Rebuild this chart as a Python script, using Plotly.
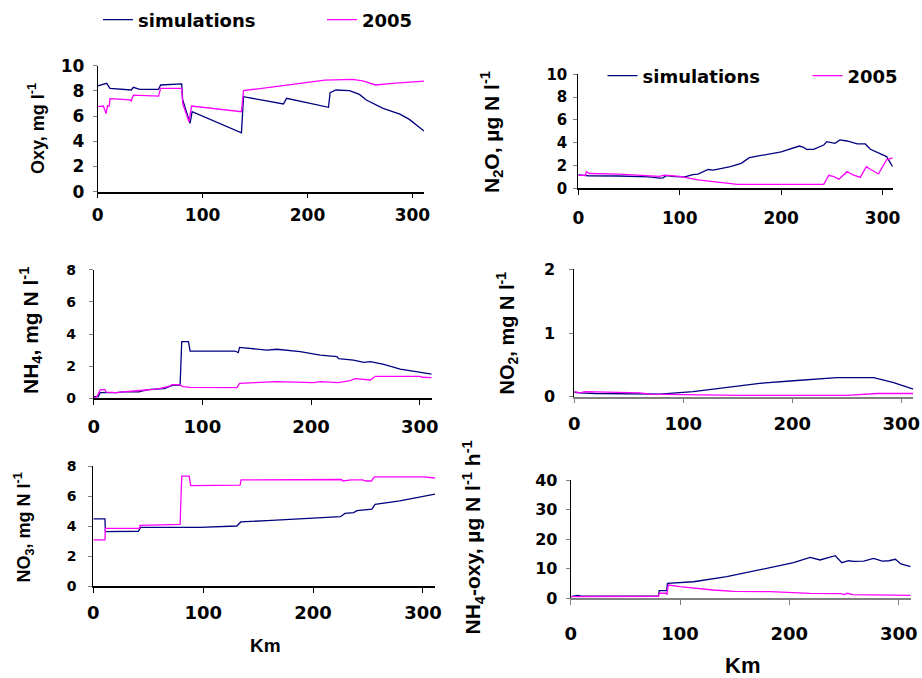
import plotly.graph_objects as go

W, H = 922, 678

# ---------------- data ----------------
oxy_sim_km = [0, 8.5, 11.7, 32, 34, 40, 58, 60, 80, 81, 88, 90, 137, 139, 177, 180, 220, 221.5, 227, 240, 249.5, 256, 272, 288, 297, 311]
oxy_sim_val = [8.39, 8.6, 8.2, 8.07, 8.28, 8.12, 8.12, 8.47, 8.55, 7.3, 5.42, 6.35, 4.68, 7.54, 6.96, 7.41, 6.7, 7.86, 8.07, 8.02, 7.72, 7.28, 6.61, 6.16, 5.74, 4.81]
oxy_obs_km = [0, 5.4, 8, 9.3, 11, 11.7, 31, 32, 34, 58, 60, 80, 81, 87, 89.5, 137, 139, 216.5, 243, 252.5, 265, 281, 311]
oxy_obs_val = [6.75, 6.8, 6.2, 6.8, 6.8, 7.38, 7.28, 7.2, 7.67, 7.59, 8.2, 8.2, 7.0, 5.55, 6.8, 6.35, 8.02, 8.86, 8.92, 8.8, 8.47, 8.6, 8.78]

n2o_sim_km = [0, 10, 40, 70, 80, 83.5, 87, 95, 105, 113, 118, 128, 133, 150, 160.6, 165.5, 168.7, 200, 218, 222, 225, 232, 242, 245, 253, 258, 265, 275, 283, 288, 301, 304, 310]
n2o_sim_val = [1.17, 1.1, 1.08, 1.0, 0.9, 0.92, 1.12, 1.02, 1.0, 1.2, 1.25, 1.65, 1.6, 1.9, 2.19, 2.49, 2.69, 3.2, 3.71, 3.6, 3.42, 3.42, 3.8, 4.09, 3.95, 4.24, 4.15, 3.89, 3.89, 3.42, 2.84, 2.78, 1.9]
n2o_obs_km = [0, 7, 8, 11, 40, 60, 80, 85, 100, 118, 144, 157, 242, 247, 252, 257, 265, 271, 278, 284, 288, 296, 304, 310]
n2o_obs_val = [1.14, 1.14, 1.46, 1.3, 1.25, 1.15, 1.05, 1.15, 1.05, 0.73, 0.44, 0.35, 0.35, 1.14, 1.02, 0.79, 1.46, 1.17, 0.96, 1.9, 1.67, 1.26, 2.5, 2.66]

nh4_sim_km = [0, 4.3, 5.8, 21, 27, 42, 44, 52, 65, 70, 73, 79.5, 81, 87.2, 88.7, 130, 133, 134.2, 147, 159.4, 168.6, 190, 208.5, 223.8, 225.4, 239, 248.5, 254.6, 267, 282, 311]
nh4_sim_val = [0.1, 0.1, 0.35, 0.35, 0.4, 0.4, 0.45, 0.55, 0.6, 0.72, 0.82, 0.82, 3.52, 3.52, 2.94, 2.94, 2.84, 3.17, 3.07, 3.0, 3.05, 2.9, 2.69, 2.59, 2.47, 2.38, 2.24, 2.28, 2.11, 1.82, 1.51]
nh4_obs_km = [0, 3, 6, 10, 11.5, 21, 27, 42, 45, 55, 60, 70, 72, 79.5, 82, 88.7, 131.8, 134.2, 168.6, 202, 208.5, 225, 236, 240.8, 254.6, 259, 300.6, 302, 311]
nh4_obs_val = [0, 0.1, 0.52, 0.55, 0.38, 0.35, 0.4, 0.45, 0.5, 0.55, 0.6, 0.75, 0.85, 0.85, 0.72, 0.68, 0.66, 0.93, 1.04, 0.97, 1.04, 0.97, 1.1, 1.22, 1.14, 1.37, 1.37, 1.31, 1.28]

no2_sim_km = [0, 5, 20, 50, 70, 78.5, 109, 139.6, 170, 201, 225.5, 241, 274.6, 293, 311]
no2_sim_val = [0.07, 0.06, 0.05, 0.05, 0.05, 0.04, 0.08, 0.15, 0.21, 0.25, 0.28, 0.3, 0.3, 0.22, 0.12]
no2_obs_km = [0, 5, 10, 60, 70, 110, 115, 155, 250, 278, 311]
no2_obs_val = [0.08, 0.06, 0.08, 0.06, 0.04, 0.04, 0.03, 0.02, 0.02, 0.05, 0.05]

no3_sim_km = [0, 10.6, 11, 41, 43, 97, 130.6, 134.2, 158, 188.3, 225, 229, 237, 240, 253.5, 256.5, 279, 311]
no3_sim_val = [4.47, 4.47, 3.62, 3.65, 3.91, 3.91, 4.0, 4.27, 4.36, 4.47, 4.62, 4.84, 4.89, 5.02, 5.13, 5.44, 5.67, 6.13]
no3_obs_km = [0, 10.6, 11, 42, 42.5, 79, 80.5, 87.2, 88.7, 133.6, 134.5, 205, 206, 226, 227, 235, 245, 248, 253, 256, 300.6, 311]
no3_obs_val = [3.07, 3.07, 3.84, 3.84, 4.04, 4.11, 7.33, 7.33, 6.69, 6.73, 7.07, 7.07, 7.1, 7.1, 7.0, 7.07, 7.07, 7.0, 7.0, 7.27, 7.27, 7.2]

nox_sim_km = [0, 4, 6, 10, 80.2, 81, 87.8, 88.5, 112.3, 142.8, 173.3, 203.8, 219, 225, 228, 242, 248, 254, 259, 268, 277, 285, 291, 297, 302, 311]
nox_sim_val = [0.6, 0.7, 1.0, 0.7, 0.7, 2.6, 2.6, 5.07, 5.6, 7.3, 9.6, 12.05, 13.86, 13.2, 12.96, 14.4, 12.05, 12.7, 12.5, 12.6, 13.5, 12.6, 12.7, 13.2, 11.6, 10.7]
nox_obs_km = [0, 80.2, 81, 87.5, 88, 89.3, 100, 112, 130, 149, 182.6, 219, 247, 250, 253, 258, 296, 311]
nox_obs_val = [0.6, 0.7, 1.7, 1.7, 1.2, 4.5, 3.94, 3.38, 2.8, 2.37, 2.25, 1.69, 1.58, 1.24, 1.69, 1.24, 1.24, 1.0]

series_names = ["simulations", "2005"]
x_ticks = [0, 100, 200, 300]

SIM_COLOR = "#000080"
OBS_COLOR = "#FF00FF"
TICKFONT = "DejaVu Sans"
TITLEFONT = "Liberation Sans, Arial"


def px_x(px):
    return px / W


def px_y(py):
    return 1 - py / H


# panel geometry (page pixels): left, right, top, bottom, xmax, ymax, dtick, tick font sizes, axis line colour
panels = [
    dict(l=97.7, r=424, t=65.7, b=191.7, xmax=311, ymax=10, dt=2, yfs=17, xfs=17, xstand=2, ystand=5, xcol="#000000",
         sim=(oxy_sim_km, oxy_sim_val), obs=(oxy_obs_km, oxy_obs_val), leg="legend"),
    dict(l=578.3, r=892.7, t=74.3, b=188.3, xmax=310, ymax=10, dt=2, yfs=15, xfs=17, xstand=9, ystand=3, xcol="#000000",
         sim=(n2o_sim_km, n2o_sim_val), obs=(n2o_obs_km, n2o_obs_val), leg="legend2"),
    dict(l=93.7, r=431.7, t=269.7, b=398.3, xmax=311, ymax=8, dt=2, yfs=14, xfs=18, xstand=6, ystand=10, xcol="#000000",
         sim=(nh4_sim_km, nh4_sim_val), obs=(nh4_obs_km, nh4_obs_val), leg=None),
    dict(l=574.3, r=913.3, t=269.3, b=396.7, xmax=311, ymax=2, dt=1, yfs=16, xfs=18, xstand=5, ystand=11, xcol="#808080",
         sim=(no2_sim_km, no2_sim_val), obs=(no2_obs_km, no2_obs_val), leg=None),
    dict(l=93.3, r=435, t=466, b=586, xmax=311, ymax=8, dt=2, yfs=14, xfs=18, xstand=5, ystand=9, xcol="#000000",
         sim=(no3_sim_km, no3_sim_val), obs=(no3_obs_km, no3_obs_val), leg=None),
    dict(l=570.7, r=910.7, t=480, b=598.3, xmax=311, ymax=40, dt=10, yfs=16, xfs=18, xstand=13, ystand=5, xcol="#808080",
         sim=(nox_sim_km, nox_sim_val), obs=(nox_obs_km, nox_obs_val), leg=None),
]

fig = go.Figure()
layout = {}
for i, p in enumerate(panels, start=1):
    sfx = "" if i == 1 else str(i)
    xa, ya = "x" + sfx, "y" + sfx
    for (xs, ys), name, col in ((p["sim"], series_names[0], SIM_COLOR), (p["obs"], series_names[1], OBS_COLOR)):
        fig.add_trace(go.Scatter(
            x=xs, y=ys, mode="lines", name=name, xaxis=xa, yaxis=ya,
            line=dict(color=col, width=1.3),
            showlegend=p["leg"] is not None, legend=p["leg"] if p["leg"] else "legend",
        ))
    layout["xaxis" + sfx] = dict(
        domain=[px_x(p["l"]), px_x(p["r"])], anchor=ya, range=[0, p["xmax"]],
        tickvals=x_ticks, showline=True, linecolor=p["xcol"], linewidth=1.5,
        ticks="outside", ticklen=5, tickcolor=p["xcol"], tickwidth=1,
        showgrid=False, zeroline=False, ticklabelstandoff=p["xstand"],
        tickfont=dict(family=TICKFONT, size=p["xfs"], color="black", weight="bold"),
    )
    layout["yaxis" + sfx] = dict(
        domain=[px_y(p["b"]), px_y(p["t"])], anchor=xa, range=[0, p["ymax"]],
        dtick=p["dt"], showline=True, linecolor="#000000", linewidth=1,
        ticks="outside", ticklen=4, tickcolor="#808080", tickwidth=1,
        showgrid=False, zeroline=False, ticklabelstandoff=p["ystand"],
        tickfont=dict(family=TICKFONT, size=p["yfs"], color="black", weight="bold"),
    )

ytitles = [
    ("Oxy, mg l<sup>-1</sup>", 37, 129, 18),
    ("N<sub>2</sub>O, µg N l<sup>-1</sup>", 492, 132, 21),
    ("NH<sub>4</sub>, mg N l<sup>-1</sup>", 30, 331, 21),
    ("NO<sub>2</sub>, mg N l<sup>-1</sup>", 507, 333.5, 20),
    ("NO<sub>3</sub>, mg N l<sup>-1</sup>", 24, 527.5, 18),
    ("NH<sub>4</sub>-oxy, µg N l<sup>-1</sup> h<sup>-1</sup>", 473, 537.5, 21),
]
annotations = []
for txt, px, py, fs in ytitles:
    annotations.append(dict(text=txt, x=px_x(px), y=px_y(py), xref="paper", yref="paper",
                            textangle=-90, showarrow=False, xanchor="center", yanchor="middle",
                            font=dict(family=TITLEFONT, size=fs, color="black", weight="bold")))
for px, py, fs in ((265, 645, 19), (742, 665, 22)):
    annotations.append(dict(text="Km", x=px_x(px), y=px_y(py), xref="paper", yref="paper",
                            showarrow=False, xanchor="center", yanchor="middle",
                            font=dict(family=TITLEFONT, size=fs, color="black", weight="bold")))

legfont = dict(family=TICKFONT, size=18, color="black", weight="bold")
fig.update_layout(
    width=W, height=H, margin=dict(l=0, r=0, t=0, b=0, autoexpand=False),
    paper_bgcolor="white", plot_bgcolor="white",
    annotations=annotations,
    legend=dict(orientation="h", x=px_x(98), y=px_y(20), xanchor="left", yanchor="middle",
                font=legfont, entrywidthmode="pixels", entrywidth=179, bgcolor="rgba(0,0,0,0)",
                itemwidth=30, tracegroupgap=0),
    legend2=dict(orientation="h", x=px_x(602.5), y=px_y(76), xanchor="left", yanchor="middle",
                 font=legfont, entrywidthmode="pixels", entrywidth=160, bgcolor="rgba(0,0,0,0)",
                 itemwidth=30, tracegroupgap=0),
    **layout,
)

# remove the browser's default page margin so the 922x678 figure fills the window exactly
fig.write_html("out.html", config={"displayModeBar": False},
               post_script="document.body.style.margin='0';document.body.style.overflow='hidden';")
